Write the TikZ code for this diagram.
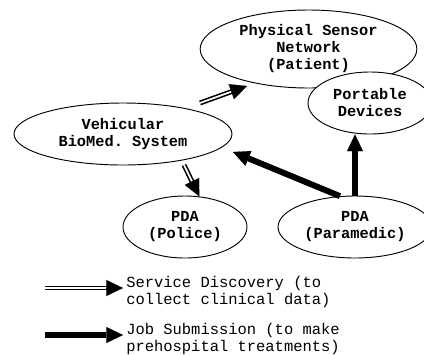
\documentclass[tikz,border=0pt]{standalone}
\usepackage{fontspec}
\setmonofont{Liberation Mono}
\usetikzlibrary{shapes.geometric,arrows.meta,calc}

\begin{document}
\begin{tikzpicture}[x=0.75pt,y=0.75pt,yscale=-1,xscale=1,
  entity/.style={ellipse, draw, fill=white, line width=0.7pt, inner sep=0pt, align=center,
    font=\ttfamily\bfseries\fontsize{11.5}{12.75}\selectfont},
  svc/.style={double, double distance=1.3pt, line width=1.2pt},
  svchead/.style={-{Triangle[length=12.5pt,width=12pt]}, line width=0.1pt},
  job/.style={line width=4.5pt, -{Triangle[length=12.5pt,width=12pt,line width=0.1pt]}},
  legendtext/.style={anchor=west, inner sep=0pt, align=left,
    font=\ttfamily\fontsize{11.6}{12.75}\selectfont}]
\useasboundingbox (0,0) rectangle (424,354);

%Shape: Ellipse [sensor network]
\node[entity, minimum width=162.5pt, minimum height=58.5pt] (psn) at (308.5,49) {Physical Sensor\\Network\\(Patient)};
%Shape: Ellipse [portable devices]
\node[entity, minimum width=93pt, minimum height=46.5pt] (port) at (370,103) {Portable\\Devices};
%Shape: Ellipse [vehicular system]
\node[entity, minimum width=163.5pt, minimum height=46.5pt] (vbs) at (123,134) {Vehicular\\BioMed. System};
%Shape: Ellipse [police pda]
\node[entity, minimum width=93pt, minimum height=46.5pt] (police) at (185,227) {PDA\\(Police)};
%Shape: Ellipse [paramedic pda]
\node[entity, minimum width=115.5pt, minimum height=46.5pt] (para) at (355,227) {PDA\\(Paramedic)};

% free ends
\coordinate (sdA) at (200,103);
\coordinate (sdB) at (247,86);
\coordinate (sdC) at (184,165);
\coordinate (jbA) at (233,152);

%Double arrows (service discovery)
\draw[svc] (sdA) -- ($(sdB)!10pt!(sdA)$);
\draw[svchead] ($(sdB)!12.5pt!(sdA)$) -- (sdB);
\draw[svc] (sdC) -- ($(police.65)!10pt!(sdC)$);
\draw[svchead] ($(police.65)!12.5pt!(sdC)$) -- (police.65);

%Thick arrows (job submission)
\draw[job] (para.116) -- (jbA);
\draw[job] (para.north) -- (para.north |- port.south);

% Legend
\coordinate (lgA) at (45,288);
\coordinate (lgB) at (123,288);
\coordinate (lgC) at (45,335);
\coordinate (lgD) at (123,335);
\draw[svc] (lgA) -- ($(lgB)!10pt!(lgA)$);
\draw[svchead] ($(lgB)!12.5pt!(lgA)$) -- (lgB);
\draw[job] (lgC) -- (lgD);

\node[legendtext] (sdtext) at (126,292) {Service Discovery (to\\collect clinical data)};
\node[legendtext] (jbtext) at (126,339) {Job Submission (to make\\prehospital treatments)};

\end{tikzpicture}
\end{document}
